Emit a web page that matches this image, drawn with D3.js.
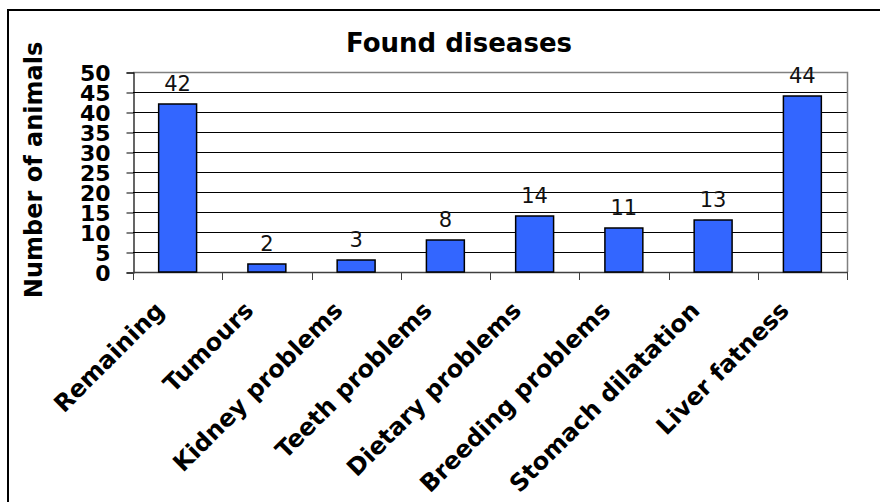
<!DOCTYPE html>
<html>
<head>
<meta charset="utf-8">
<script src="https://cdn.jsdelivr.net/npm/d3@7"></script>
<style>
    body { margin: 0; background: #fff; }
    svg { display: block; font-family: "DejaVu Sans", Verdana, sans-serif; }
</style>
</head>
<body>
<div id="chart"></div>
<script>
const categories = ['Remaining', 'Tumours', 'Kidney problems', 'Teeth problems',
    'Dietary problems', 'Breeding problems', 'Stomach dilatation', 'Liver fatness'];
const values = [42, 2, 3, 8, 14, 11, 13, 44];
const yTicks = [0, 5, 10, 15, 20, 25, 30, 35, 40, 45, 50];

const width = 880;
const height = 502;
const plot = { left: 133, right: 847, top: 72, bottom: 272 };

const svg = d3.select('#chart')
    .append('svg')
    .attr('width', width)
    .attr('height', height);

svg.append('rect')
    .attr('width', width)
    .attr('height', height)
    .attr('fill', '#fff');

// outer chart frame (runs off the right and bottom edges)
svg.append('rect')
    .attr('x', 8)
    .attr('y', 10)
    .attr('width', 1000)
    .attr('height', 1000)
    .attr('fill', 'none')
    .attr('stroke', '#000')
    .attr('stroke-width', 2);

const xScale = d3.scaleBand()
    .domain(categories)
    .range([plot.left, plot.right])
    .paddingInner(0.575)
    .paddingOuter(0.2875);

const yScale = d3.scaleLinear()
    .domain([0, 50])
    .range([plot.bottom, plot.top]);

// gridlines
svg.append('g')
    .selectAll('line')
    .data(yTicks.filter(d => d > 0 && d < 50))
    .enter().append('line')
    .attr('x1', plot.left)
    .attr('x2', plot.right)
    .attr('y1', d => yScale(d) + 0.5)
    .attr('y2', d => yScale(d) + 0.5)
    .attr('stroke', '#000')
    .attr('stroke-width', 1);

// top and right plot border
svg.append('path')
    .attr('d', `M${plot.left},${yScale(50) + 0.5}H${plot.right + 0.5}V${plot.bottom}`)
    .attr('fill', 'none')
    .attr('stroke', '#808080')
    .attr('stroke-width', 1.5);

// y axis
const yAxis = svg.append('g')
    .attr('transform', `translate(${plot.left + 0.5}, 0.5)`)
    .call(d3.axisLeft(yScale).tickValues(yTicks).tickSize(7).tickFormat(d3.format('d')));
yAxis.select('.domain').attr('stroke', '#000').attr('stroke-width', 1.2);
yAxis.selectAll('.tick line').attr('stroke', '#000');
yAxis.selectAll('.tick text')
    .attr('x', -23)
    .attr('dy', '0.36em')
    .attr('font-size', 22)
    .attr('font-weight', 'bold')
    .attr('font-family', '"DejaVu Sans", Verdana, sans-serif')
    .attr('fill', '#000');

// x axis: ticks sit on the category boundaries
const bounds = d3.range(categories.length + 1).map(i => plot.left + i * xScale.step());
svg.append('line')
    .attr('x1', plot.left)
    .attr('x2', plot.right + 1)
    .attr('y1', plot.bottom + 0.5)
    .attr('y2', plot.bottom + 0.5)
    .attr('stroke', '#404040')
    .attr('stroke-width', 1.5);
svg.append('g')
    .selectAll('line')
    .data(bounds)
    .enter().append('line')
    .attr('x1', d => Math.round(d) + 0.5)
    .attr('x2', d => Math.round(d) + 0.5)
    .attr('y1', plot.bottom)
    .attr('y2', plot.bottom + 8)
    .attr('stroke', '#404040')
    .attr('stroke-width', 1);

// bars
svg.append('g')
    .selectAll('rect')
    .data(values)
    .enter().append('rect')
    .attr('x', (d, i) => xScale(categories[i]))
    .attr('y', d => yScale(d))
    .attr('width', xScale.bandwidth())
    .attr('height', d => yScale(0) - yScale(d))
    .attr('fill', '#3366ff')
    .attr('stroke', '#000')
    .attr('stroke-width', 1.5);

// value labels
svg.append('g')
    .selectAll('text')
    .data(values)
    .enter().append('text')
    .attr('x', (d, i) => xScale(categories[i]) + xScale.bandwidth() / 2)
    .attr('y', d => yScale(d) - 13)
    .attr('text-anchor', 'middle')
    .attr('font-size', 21)
    .attr('fill', '#111')
    .text(d => d);

// category labels, rotated
svg.append('g')
    .selectAll('text')
    .data(categories)
    .enter().append('text')
    .attr('transform', d => `translate(${xScale(d) + xScale.bandwidth() / 2 - 12}, ${plot.bottom + 40}) rotate(-45)`)
    .attr('text-anchor', 'end')
    .attr('font-size', 24)
    .attr('font-weight', 'bold')
    .text(d => d);

// titles
svg.append('text')
    .attr('x', 459)
    .attr('y', 52)
    .attr('text-anchor', 'middle')
    .attr('font-size', 26)
    .attr('font-weight', 'bold')
    .text('Found diseases');

svg.append('text')
    .attr('transform', 'translate(42, 170) rotate(-90)')
    .attr('text-anchor', 'middle')
    .attr('font-size', 24)
    .attr('font-weight', 'bold')
    .text('Number of animals');
</script>
</body>
</html>
